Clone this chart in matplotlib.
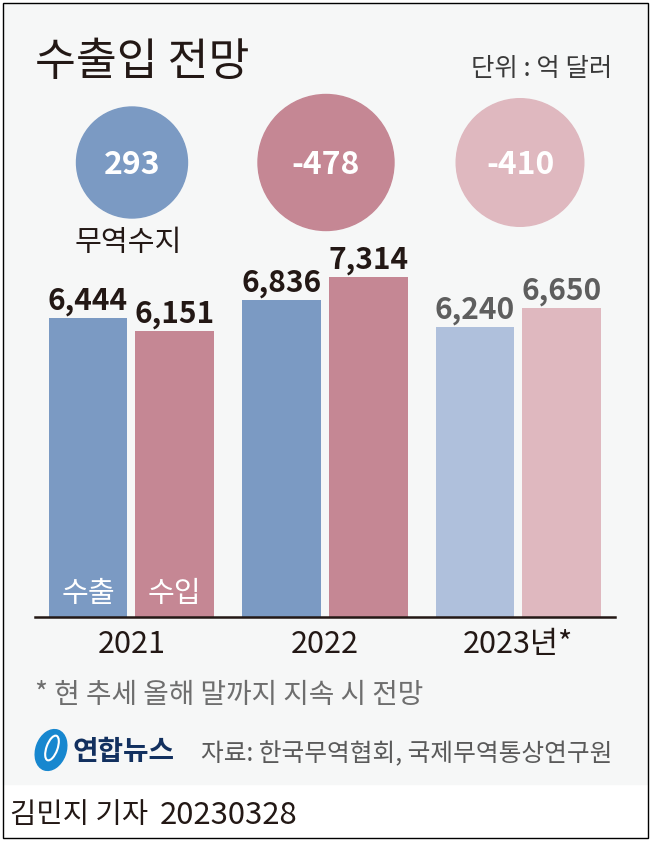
import numpy as np
import matplotlib
matplotlib.use("Agg")
import matplotlib.pyplot as plt
from matplotlib.patches import Ellipse, Rectangle

plt.rcParams['font.family'] = ['Noto Sans CJK KR', 'DejaVu Sans']

YEARS = ["2021", "2022", "2023년*"]
EXPORTS = [6444, 6836, 6240]
IMPORTS = [6151, 7314, 6650]
BALANCE = [293, -478, -410]
EXPORT_COLORS = ["#7b9ac3", "#7b9ac3", "#afc0dc"]
IMPORT_COLORS = ["#c58794", "#c58794", "#dfb8bf"]
BALANCE_COLORS = ["#7b9ac3", "#c58794", "#dfb8bf"]
LABEL_COLORS = ["#231815", "#231815", "#5e5e5e"]


def chart_all(plot=False):
    """
    Docstring for chart_all

    plot: do we want to save the figure
    """

    fig = plt.figure(figsize=(6.5, 8.43), dpi=100, facecolor="white")

    # back layer is in pixels of the picture, for panel, frame and free text
    back = fig.add_axes([0, 0, 1, 1])
    back.set_xlim(0, 650)
    back.set_ylim(843, 0)
    back.axis("off")
    back.add_patch(Rectangle((3, 3), 644, 781, color="#f6f7f7", zorder=0))
    back.add_patch(Rectangle((2.5, 2.5), 645, 835.5, fill=False, edgecolor="black", linewidth=1.0, zorder=5))

    back.text(35, 62, "수출입 전망", fontsize=32, color="#231815", va="center", ha="left")
    back.text(612, 69, "단위 : 억 달러", fontsize=18.3, color="#3a3a3a", va="center", ha="right")
    back.text(128, 243, "무역수지", fontsize=21, color="#231815", va="center", ha="center")

    # circle centres follow the bar groups, width grows slower than the value
    centres = [132, 326, 520]
    heights = [162.5, 162.5, 162.5]
    for x, y, value, color in zip(centres, heights, BALANCE, BALANCE_COLORS):
        diameter = 111 * (abs(value) / 293) ** 0.415
        back.add_patch(Ellipse((x, y), diameter, diameter, color=color, zorder=1))
        back.text(x, y + 2, f"{value}", fontsize=23, fontweight="bold", color="white", va="center", ha="center", zorder=2)

    # bars, one px is about 1/0.0464 dollars here
    ax = fig.add_axes([34.55 / 650, (843 - 616.7) / 843, 580.5 / 650, 371.2 / 843])
    ax.patch.set_alpha(0)
    ind = np.arange(len(YEARS))
    bars_out = ax.bar(ind - 0.224, EXPORTS, 0.407, color=EXPORT_COLORS)
    bars_in = ax.bar(ind + 0.224, IMPORTS, 0.407, color=IMPORT_COLORS)

    for bars, values in [(bars_out, EXPORTS), (bars_in, IMPORTS)]:
        for bar, value, color in zip(bars, values, LABEL_COLORS):
            ax.text(bar.get_x() + bar.get_width() / 2, value + 40, f"{value:,}", fontsize=21.5, fontweight="bold", color=color, va="bottom", ha="center", linespacing=1)

    # small names inside the first two bars
    ax.text(ind[0] - 0.224, 500, "수출", fontsize=21, color="white", va="center", ha="center")
    ax.text(ind[0] + 0.224, 500, "수입", fontsize=21, color="white", va="center", ha="center")

    ax.set_xlim(-0.5, 2.5)
    ax.set_ylim(0, 8000)
    ax.set_yticks([])
    ax.set_xticks(ind)
    ax.set_xticklabels(YEARS, fontsize=22, color="#231815")
    ax.tick_params(axis="x", length=0, pad=9)
    for side in ["top", "left", "right"]:
        ax.spines[side].set_visible(False)
    ax.spines["bottom"].set_linewidth(1.8)
    ax.spines["bottom"].set_color("#231815")

    back.text(35, 695, "* 현 추세 올해 말까지 지속 시 전망", fontsize=20, color="#6e6e6e", va="center", ha="left")

    # logo, blue ball with a white swirl and the name next to it
    back.add_patch(Ellipse((51, 750), 30, 42, angle=20, color="#1787cf", zorder=2))
    back.add_patch(Ellipse((52, 748), 11, 26, angle=20, fill=False, edgecolor="white", linewidth=1.5, zorder=3))
    back.text(73, 752, "연합뉴스", fontsize=20, fontweight="bold", color="#12305f", va="center", ha="left")
    back.text(612, 754, "자료: 한국무역협회, 국제무역통상연구원", fontsize=17.8, color="#5a5a5a", va="center", ha="right")

    back.text(10, 815, "김민지 기자", fontsize=20.6, color="#231815", va="center", ha="left")
    back.text(160, 815, "20230328", fontsize=22.4, color="#231815", va="center", ha="left")

    if plot:
        plt.savefig("out.png", dpi=100)


if __name__ == "__main__":

    chart_all(plot=True)
